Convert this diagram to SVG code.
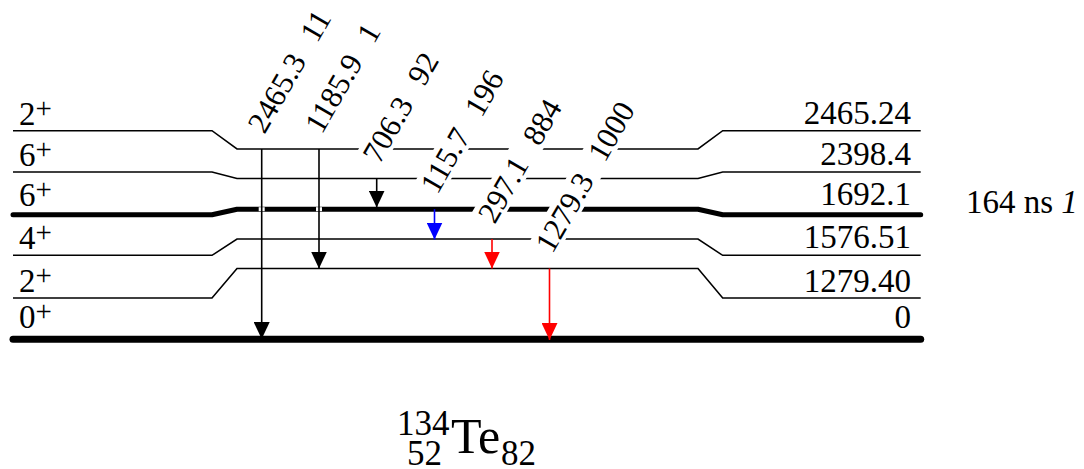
<svg xmlns="http://www.w3.org/2000/svg" width="1084" height="469" viewBox="0 0 1084 469">
<style>
text{font-family:"Liberation Serif","Times New Roman",serif;fill:#000}
.lvl{fill:none;stroke:#000;stroke-width:1.6}
.thick{fill:none;stroke:#000;stroke-width:5;stroke-linecap:round;stroke-linejoin:round}
.thick0{fill:none;stroke:#000;stroke-width:7;stroke-linecap:round}
.jl{font-size:33px}
.sup{font-size:29px}
.el{font-size:33px;text-anchor:end}
.gl{font-size:31px}
.bg{fill:#fff}
.ar{stroke-width:1.6;fill:none}
</style>
<defs>
<marker id="hk" markerUnits="userSpaceOnUse" markerWidth="17" markerHeight="16" refX="17" refY="8" orient="auto"><path d="M0,0 L17,8 L0,16 Z" fill="#000"/></marker>
<marker id="hb" markerUnits="userSpaceOnUse" markerWidth="17" markerHeight="16" refX="17" refY="8" orient="auto"><path d="M0,0 L17,8 L0,16 Z" fill="#0000ff"/></marker>
<marker id="hr" markerUnits="userSpaceOnUse" markerWidth="17" markerHeight="16" refX="17" refY="8" orient="auto"><path d="M0,0 L17,8 L0,16 Z" fill="#ff0000"/></marker>
</defs>

<g id="level-2465">
<path class="lvl" d="M13,130.7 H212 L237,149 H698 L722.7,130.7 H920.7"/>
<text class="jl" x="19" y="124.5">2<tspan class="sup" dy="-7">+</tspan></text>
<text class="el" x="911" y="123.7">2465.24</text>
</g>
<g id="level-2398">
<path class="lvl" d="M13,172 H212 L237,178.5 H698 L722.7,172 H920.7"/>
<text class="jl" x="19" y="165.5">6<tspan class="sup" dy="-7">+</tspan></text>
<text class="el" x="911" y="165">2398.4</text>
</g>
<g id="level-1692">
<path class="thick" d="M13,214.7 H212 L237,209.2 H698 L722.7,214.7 H920.7"/>
<text class="jl" x="19" y="205.5">6<tspan class="sup" dy="-7">+</tspan></text>
<text class="el" x="911" y="205">1692.1</text>
<text class="jl" x="966" y="213">164 ns <tspan font-style="italic">1</tspan></text>
</g>
<g id="level-1576">
<path class="lvl" d="M13,255.3 H212 L237,239 H698 L722.7,255.3 H920.7"/>
<text class="jl" x="19" y="248.5">4<tspan class="sup" dy="-7">+</tspan></text>
<text class="el" x="911" y="248.3">1576.51</text>
</g>
<g id="level-1279">
<path class="lvl" d="M13,298 H212 L237,268.5 H698 L722.7,298 H920.7"/>
<text class="jl" x="19" y="291.5">2<tspan class="sup" dy="-7">+</tspan></text>
<text class="el" x="911" y="291.5">1279.40</text>
</g>
<g id="level-0">
<path class="thick0" d="M13,339.3 H920.7"/>
<text class="jl" x="19" y="328">0<tspan class="sup" dy="-7">+</tspan></text>
<text class="el" x="911" y="327.5">0</text>
</g>

<g id="gamma-labels">
<g id="g2465" transform="translate(264.4,135) rotate(-60)"><rect class="bg" x="-3" y="-26" width="142" height="30"/><text class="gl"><tspan>2465.3</tspan><tspan dx="20">11</tspan></text></g>
<g id="g1185" transform="translate(321.7,135) rotate(-60)"><rect class="bg" x="-3" y="-26" width="127" height="30"/><text class="gl"><tspan>1185.9</tspan><tspan dx="20">1</tspan></text></g>
<g id="g706" transform="translate(379.4,165) rotate(-60)"><rect class="bg" x="-3" y="-26" width="127" height="30"/><text class="gl"><tspan>706.3</tspan><tspan dx="20">92</tspan></text></g>
<g id="g115" transform="translate(437.2,195.2) rotate(-60)"><rect class="bg" x="-3" y="-26" width="142" height="30"/><text class="gl"><tspan>115.7</tspan><tspan dx="20">196</tspan></text></g>
<g id="g297" transform="translate(494.7,225) rotate(-60)"><rect class="bg" x="-3" y="-26" width="142" height="30"/><text class="gl"><tspan>297.1</tspan><tspan dx="20">884</tspan></text></g>
<g id="g1279" transform="translate(552.2,254.5) rotate(-60)"><rect class="bg" x="-3" y="-26" width="173" height="30"/><text class="gl"><tspan>1279.3</tspan><tspan dx="20">1000</tspan></text></g>
</g>

<g id="connectors">
<rect class="bg" x="258.7" y="207.2" width="6" height="4"/>
<rect class="bg" x="316" y="207.2" width="6" height="4"/>
<line class="ar" stroke="#000" x1="261.7" y1="149" x2="261.7" y2="339" marker-end="url(#hk)"/>
<line class="ar" stroke="#000" x1="319" y1="149" x2="319" y2="268.5" marker-end="url(#hk)"/>
<line class="ar" stroke="#000" x1="376.7" y1="178.5" x2="376.7" y2="207.5" marker-end="url(#hk)"/>
<line class="ar" stroke="#0000ff" x1="434.5" y1="209.2" x2="434.5" y2="239.5" marker-end="url(#hb)"/>
<line class="ar" stroke="#ff0000" x1="492" y1="239" x2="492" y2="268.5" marker-end="url(#hr)"/>
<line class="ar" stroke="#ff0000" x1="549.5" y1="268.5" x2="549.5" y2="340" marker-end="url(#hr)"/>
</g>

<g id="nuclide">
<text x="397" y="435" font-size="35px">134</text>
<text x="407" y="465" font-size="35px">52</text>
<text x="451" y="453" font-size="50px">Te</text>
<text x="501" y="465" font-size="35px">82</text>
</g>
</svg>
